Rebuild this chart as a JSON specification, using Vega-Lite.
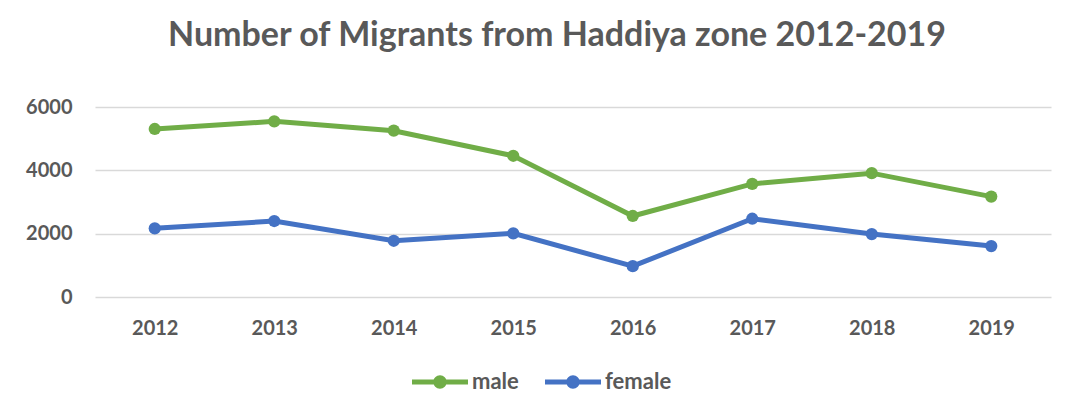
{
  "$schema": "https://vega.github.io/schema/vega-lite/v6.json",
  "width": 956,
  "height": 190,
  "autosize": {"type": "none"},
  "padding": {"left": 95, "top": 107, "right": 18, "bottom": 117},
  "background": "white",
  "title": {
    "text": "Number of Migrants from Haddiya zone 2012-2019",
    "font": "Lato",
    "fontSize": 34,
    "fontWeight": "bold",
    "color": "#595959",
    "anchor": "middle",
    "offset": 44,
    "dx": -16
  },
  "data": {
    "values": [
      {"year": "2012", "sex": "male", "count": 5306},
      {"year": "2013", "sex": "male", "count": 5547},
      {"year": "2014", "sex": "male", "count": 5252},
      {"year": "2015", "sex": "male", "count": 4460},
      {"year": "2016", "sex": "male", "count": 2558},
      {"year": "2017", "sex": "male", "count": 3572},
      {"year": "2018", "sex": "male", "count": 3911},
      {"year": "2019", "sex": "male", "count": 3170},
      {"year": "2012", "sex": "female", "count": 2168},
      {"year": "2013", "sex": "female", "count": 2399},
      {"year": "2014", "sex": "female", "count": 1775},
      {"year": "2015", "sex": "female", "count": 2010},
      {"year": "2016", "sex": "female", "count": 973},
      {"year": "2017", "sex": "female", "count": 2472},
      {"year": "2018", "sex": "female", "count": 1987},
      {"year": "2019", "sex": "female", "count": 1607}
    ]
  },
  "encoding": {
    "x": {
      "field": "year",
      "type": "ordinal",
      "scale": {"type": "point", "padding": 0.5},
      "axis": {
        "title": null,
        "labelAngle": 0,
        "domain": false,
        "ticks": false,
        "grid": false,
        "labelFont": "Lato",
        "labelFontSize": 20,
        "labelFontWeight": "bold",
        "labelColor": "#595959",
        "labelPadding": 21
      }
    },
    "y": {
      "field": "count",
      "type": "quantitative",
      "scale": {"domain": [0, 6000], "nice": false},
      "axis": {
        "title": null,
        "values": [0, 2000, 4000, 6000],
        "format": "d",
        "domain": false,
        "ticks": false,
        "grid": true,
        "gridColor": "#D9D9D9",
        "gridWidth": 1.5,
        "labelFont": "Lato",
        "labelFontSize": 20,
        "labelFontWeight": "bold",
        "labelColor": "#595959",
        "labelPadding": 23
      }
    },
    "color": {
      "field": "sex",
      "type": "nominal",
      "scale": {"domain": ["male", "female"], "range": ["#70AD47", "#4472C4"]},
      "legend": {
        "title": null,
        "orient": "none",
        "legendX": 317,
        "legendY": 247,
        "direction": "horizontal",
        "symbolType": "M-1,-0.09H1V0.09H-1Z M-0.24,0A0.24,0.24 0 1,1 0.24,0A0.24,0.24 0 1,1 -0.24,0Z",
        "symbolSize": 3136,
        "symbolStrokeWidth": 0,
        "labelFont": "Lato",
        "labelFontSize": 22,
        "labelFontWeight": "bold",
        "labelColor": "#595959",
        "labelOffset": 4,
        "columnPadding": 26,
        "encode": {
          "symbols": {
            "update": {
              "fill": {"scale": "color", "field": "value"},
              "fillOpacity": {"value": 1}
            }
          }
        }
      }
    }
  },
  "layer": [
    {"mark": {"type": "line", "strokeWidth": 5}},
    {"mark": {"type": "circle", "size": 150, "opacity": 1}}
  ],
  "config": {
    "view": {"stroke": null}
  }
}
